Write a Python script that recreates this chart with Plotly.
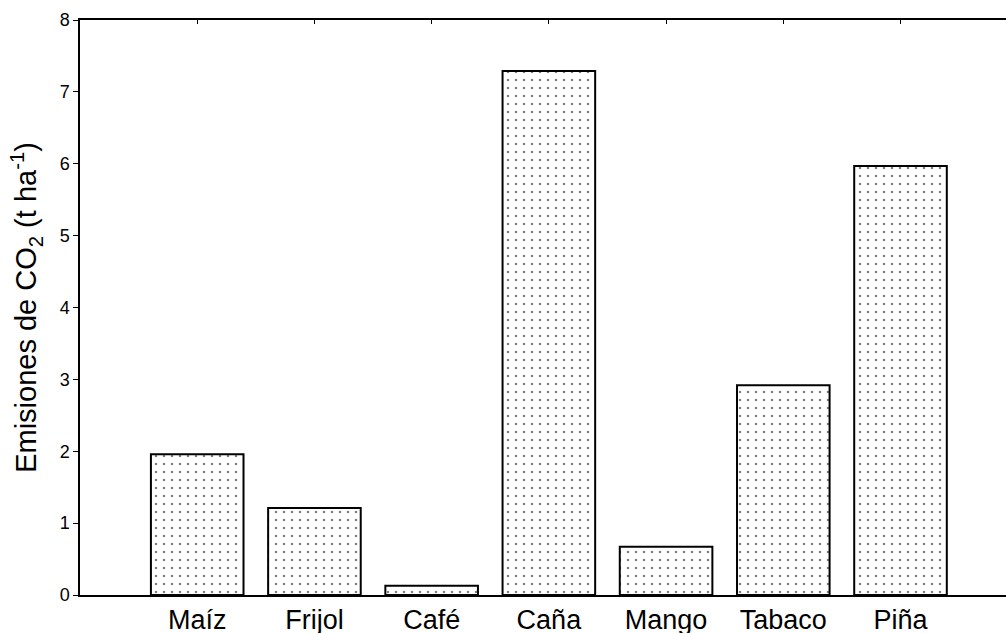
import plotly.graph_objects as go

categories = ["Maíz", "Frijol", "Café", "Caña", "Mango", "Tabaco", "Piña"]
emissions = [1.96, 1.21, 0.13, 7.29, 0.67, 2.92, 5.97]
y_ticks = [0, 1, 2, 3, 4, 5, 6, 7, 8]

fig = go.Figure()
fig.add_trace(go.Bar(
    x=categories,
    y=emissions,
    width=0.79,
    marker=dict(
        color="white",
        line=dict(color="black", width=2),
        pattern=dict(shape=".", fgcolor="black", bgcolor="white", size=8, solidity=0.08),
    ),
    showlegend=False,
))
# invisible trace to drive the top axis
fig.add_trace(go.Scatter(x=categories, y=emissions, xaxis="x2", mode="none",
                         showlegend=False, hoverinfo="skip"))

font = "Liberation Sans, Arial, sans-serif"
fig.update_layout(
    width=1006, height=633,
    margin=dict(l=80, r=0, t=20, b=38),
    plot_bgcolor="white", paper_bgcolor="white",
    font=dict(family=font, color="black"),
    xaxis=dict(
        type="category", range=[-1, 6.9], automargin=False,
        showline=True, linecolor="black", linewidth=1.5,
        ticks="", showgrid=False, zeroline=False,
        tickfont=dict(size=27, family=font), ticklabelstandoff=0,
    ),
    xaxis2=dict(
        type="category", range=[-1, 6.9], overlaying="x", side="top",
        matches="x", automargin=False,
        showline=True, linecolor="black", linewidth=1.5,
        ticks="inside", ticklen=4, tickcolor="black", tickwidth=1,
        showticklabels=False, showgrid=False, zeroline=False,
    ),
    yaxis=dict(
        range=[0, 8], tickvals=y_ticks, automargin=False,
        showline=True, linecolor="black", linewidth=1.5,
        ticks="outside", ticklen=5, tickcolor="black", tickwidth=1,
        showgrid=False, zeroline=False,
        tickfont=dict(size=18, family=font),
        title=dict(text="Emisiones de CO<sub>2</sub> (t ha<sup>-1</sup>)",
                   font=dict(size=29, family=font), standoff=14),
    ),
)

fig.write_html(
    "out.html",
    config={"displayModeBar": False},
    post_script="document.body.style.margin='0';document.body.style.overflow='hidden';",
)
